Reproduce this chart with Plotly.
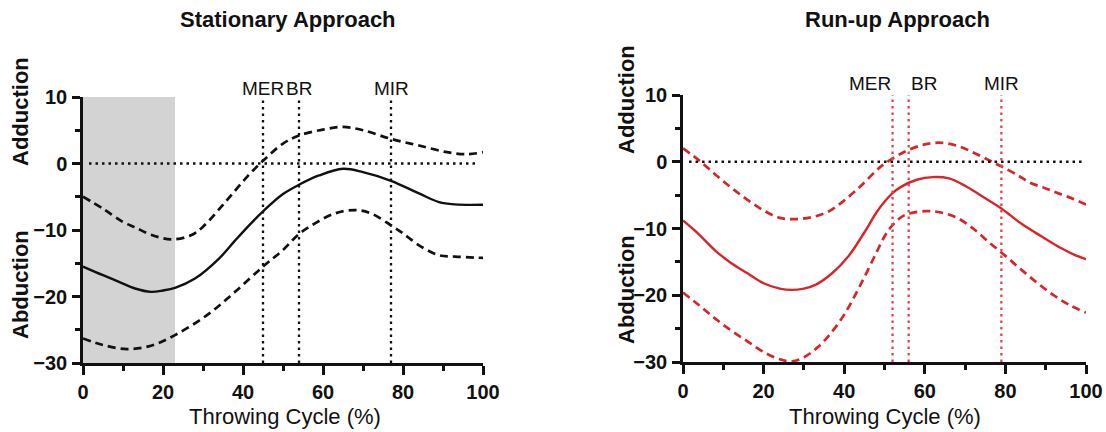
import plotly.graph_objects as go

# ---------------- data ----------------
titles = ["Stationary Approach", "Run-up Approach"]
event_labels = ["MER", "BR", "MIR"]
stat_events = [45, 54, 77]
run_events = [52, 56, 79]
shade_end = 23  # stationary shaded region end (% cycle)

stat_mean_x = [0, 5, 9, 13, 17, 20, 23, 28, 34, 38, 42, 45, 50, 54, 59, 65, 70, 77, 84, 89, 93, 100]
stat_mean_y = [-15.5, -16.8, -17.8, -18.8, -19.3, -19.1, -18.7, -17.3, -14.3, -11.6, -9.0, -7.2, -4.6, -3.2, -1.8, -0.8, -1.3, -2.6, -4.5, -5.8, -6.15, -6.2]

stat_up_x = [0, 5, 10, 13, 17, 22, 27, 30, 36, 41, 45, 50, 54, 60, 65, 70, 77, 84, 91, 96, 100]
stat_up_y = [-5.0, -6.8, -8.8, -9.6, -10.7, -11.4, -10.8, -9.5, -5.5, -2.0, 0.4, 3.0, 4.2, 5.1, 5.5, 5.0, 3.7, 2.7, 1.7, 1.4, 1.7]

stat_lo_x = [0, 5, 11, 17, 23, 31, 38, 45, 50, 54, 58, 63, 68, 72, 77, 80, 84, 89, 93, 100]
stat_lo_y = [-26.3, -27.3, -27.9, -27.4, -25.8, -22.8, -19.3, -15.5, -13.0, -10.6, -9.0, -7.5, -7.0, -7.5, -9.3, -10.5, -12.3, -13.8, -14.0, -14.2]

run_mean_x = [0, 4, 8, 12, 16, 20, 24, 27, 30, 33, 37, 41, 45, 48, 50, 52, 54, 58, 62, 66, 70, 74, 79, 84, 89, 94, 97, 100]
run_mean_y = [-8.8, -10.9, -13.3, -15.2, -16.7, -18.2, -19.0, -19.2, -19.0, -18.4, -16.7, -14.2, -10.6, -7.6, -6.0, -4.7, -3.8, -2.7, -2.3, -2.5, -3.6, -5.1, -7.0, -9.3, -11.2, -13.0, -13.9, -14.6]

run_up_x = [0, 4, 8, 12, 16, 20, 24, 28, 32, 36, 40, 44, 48, 50, 55, 60, 64, 68, 72, 76, 79, 83, 86, 90, 93, 97, 100]
run_up_y = [2.0, 0.2, -1.9, -3.9, -5.7, -7.3, -8.4, -8.6, -8.3, -7.5, -5.8, -3.7, -1.3, -0.3, 1.5, 2.6, 2.85, 2.4, 1.4, 0.2, -0.7, -2.0, -3.1, -4.0, -4.7, -5.6, -6.4]

run_lo_x = [0, 4, 8, 12, 16, 20, 24, 27, 30, 33, 36, 40, 44, 48, 50, 52, 55, 60, 64, 68, 72, 76, 80, 84, 88, 92, 96, 100]
run_lo_y = [-19.6, -21.5, -23.5, -25.3, -26.9, -28.5, -29.6, -29.9, -29.3, -28.0, -26.2, -22.9, -18.5, -13.6, -11.2, -9.5, -8.0, -7.4, -7.6, -8.4, -10.0, -12.1, -14.1, -16.2, -18.2, -20.0, -21.5, -22.6]

x_range = [0, 100]
y_range = [-30, 10]

# ---------------- style ----------------
W, H = 1106, 432
FONT = "Arial, Liberation Sans, sans-serif"
BLACK = "#111111"
RED = "#d7262b"
RED_LIGHT = "#e0474c"
DOT = "2.5px,4px"
DASH = "8px,5px"

def px(v, total):
    return v / total

fig = go.Figure()

def add_series(xs, ys, color, dash, width, xa, ya):
    fig.add_trace(go.Scatter(
        x=xs, y=ys, mode="lines", xaxis=xa, yaxis=ya,
        line=dict(color=color, width=width, dash=dash, shape="spline", smoothing=1.0),
        showlegend=False, hoverinfo="skip"))

add_series(stat_up_x, stat_up_y, BLACK, DASH, 2.7, "x", "y")
add_series(stat_lo_x, stat_lo_y, BLACK, DASH, 2.7, "x", "y")
add_series(stat_mean_x, stat_mean_y, BLACK, "solid", 2.4, "x", "y")

add_series(run_up_x, run_up_y, RED, DASH, 2.7, "x2", "y2")
add_series(run_lo_x, run_lo_y, RED, DASH, 2.7, "x2", "y2")
add_series(run_mean_x, run_mean_y, RED, "solid", 2.4, "x2", "y2")

shapes = []
# shaded region
shapes.append(dict(type="rect", xref="x", yref="y", x0=0, x1=shade_end, y0=y_range[0], y1=y_range[1],
                   fillcolor="#d3d3d3", line=dict(width=0), layer="below"))
# zero lines
for xr, yr in (("x", "y"), ("x2", "y2")):
    shapes.append(dict(type="line", xref=xr, yref=yr, x0=1.5, x1=99, y0=0, y1=0,
                       line=dict(color=BLACK, width=2.3, dash=DOT), layer="above"))
# event lines
for ev in stat_events:
    shapes.append(dict(type="line", xref="x", yref="y", x0=ev, x1=ev, y0=y_range[0], y1=y_range[1],
                       line=dict(color=BLACK, width=2.3, dash=DOT)))
for ev in run_events:
    shapes.append(dict(type="line", xref="x2", yref="y2", x0=ev, x1=ev, y0=y_range[0], y1=10.8,
                       line=dict(color=RED_LIGHT, width=2.3, dash=DOT)))

ann = []
def text(x, y, s, size, bold=False, xref="paper", xanchor="center", angle=0):
    ann.append(dict(x=x, y=y, xref=xref, yref="paper", text=s, showarrow=False,
                    xanchor=xanchor, yanchor="middle", textangle=angle,
                    font=dict(family=FONT, size=size, color=BLACK,
                              weight="bold" if bold else "normal")))

# titles
text(px(288, W), 1 - px(20, H), titles[0], 22, bold=True)
text(px(897, W), 1 - px(20, H), titles[1], 22, bold=True)
# y side labels
text(px(20, W), 1 - px(112, H), "Adduction", 22, bold=True, angle=-90)
text(px(20, W), 1 - px(285, H), "Abduction", 22, bold=True, angle=-90)
text(px(626, W), 1 - px(100, H), "Adduction", 22, bold=True, angle=-90)
text(px(626, W), 1 - px(290, H), "Abduction", 22, bold=True, angle=-90)
# x titles
text(px(285, W), 1 - px(416, H), "Throwing Cycle (%)", 22)
text(px(885, W), 1 - px(416, H), "Throwing Cycle (%)", 22)
# event labels
for ev, lab in zip(stat_events, event_labels):
    text(ev, 1 - px(88, H), lab, 19, xref="x")
text(run_events[0], 1 - px(83, H), event_labels[0], 19, xref="x2", xanchor="right")
text(run_events[1], 1 - px(83, H), event_labels[1], 19, xref="x2", xanchor="left")
text(run_events[2], 1 - px(83, H), event_labels[2], 19, xref="x2")

tickfont = dict(family=FONT, size=20, color=BLACK, weight="bold")
def xaxis(domain, anchor):
    return dict(domain=domain, anchor=anchor, range=x_range, showgrid=False, zeroline=False,
                automargin=False,
                showline=True, linecolor=BLACK, linewidth=2.5, ticks="outside", ticklen=9,
                tickwidth=2.5, tickcolor=BLACK, dtick=20, tick0=0, tickfont=tickfont,
                minor=dict(dtick=10, tick0=0, ticks="outside", ticklen=5, tickwidth=2.5, tickcolor=BLACK),
                fixedrange=True)
def yaxis(domain, anchor):
    return dict(domain=domain, anchor=anchor, range=y_range, showgrid=False, zeroline=False,
                automargin=False,
                showline=True, linecolor=BLACK, linewidth=2.5, ticks="outside", ticklen=8,
                tickwidth=2.5, tickcolor=BLACK, dtick=10, tick0=0, tickfont=tickfont,
                ticklabelstandoff=1,
                minor=dict(dtick=5, tick0=0, ticks="outside", ticklen=5, tickwidth=2.5, tickcolor=BLACK),
                fixedrange=True)

fig.update_layout(
    template="none",
    width=W, height=H, margin=dict(l=0, r=0, t=0, b=0, pad=0, autoexpand=False),
    paper_bgcolor="white", plot_bgcolor="white",
    xaxis=xaxis([px(83, W), px(483, W)], "y"),
    yaxis=yaxis([1 - px(363, H), 1 - px(97, H)], "x"),
    xaxis2=xaxis([px(683, W), px(1086, W)], "y2"),
    yaxis2=yaxis([1 - px(362, H), 1 - px(95, H)], "x2"),
    shapes=shapes, annotations=ann, showlegend=False,
)

fig.write_html("out.html", config={"displayModeBar": False})
